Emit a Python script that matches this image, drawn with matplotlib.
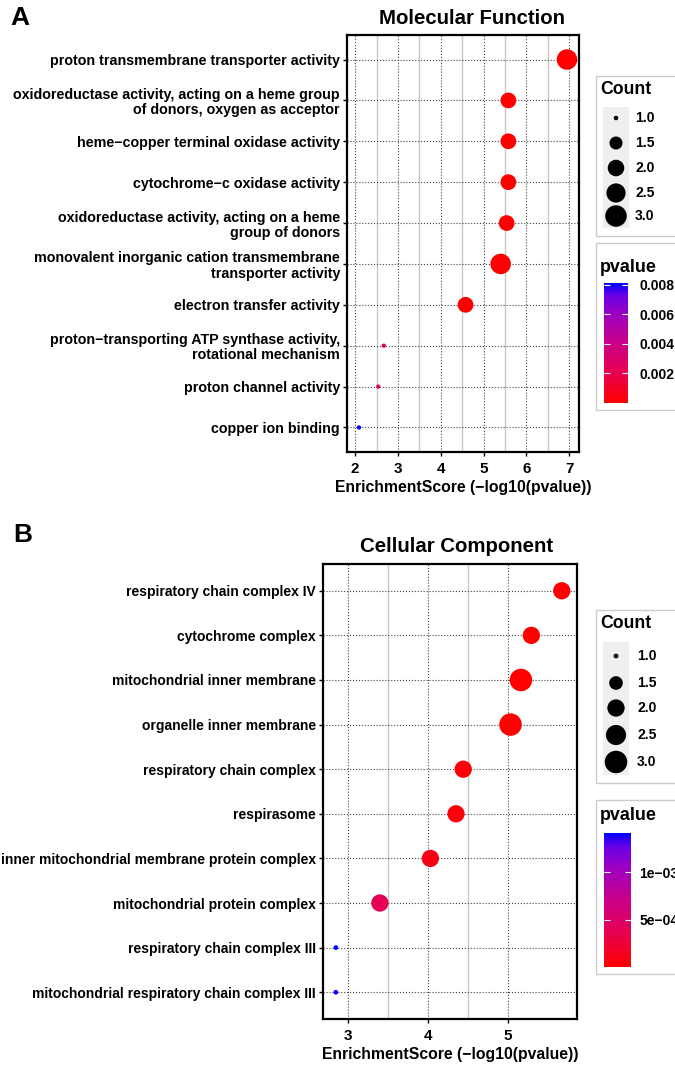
import numpy as np
import matplotlib
matplotlib.use('Agg')
import matplotlib.pyplot as plt
from matplotlib.colors import LinearSegmentedColormap, Normalize
from matplotlib.patches import Rectangle

plt.rcParams['font.family'] = ['Liberation Sans', 'DejaVu Sans']
plt.rcParams['font.weight'] = 'bold'
plt.rcParams['axes.labelweight'] = 'bold'

W, H = 675, 1068

# Molecular Function
mf_terms = [
    'proton transmembrane transporter activity',
    'oxidoreductase activity, acting on a heme group\nof donors, oxygen as acceptor',
    'heme\u2212copper terminal oxidase activity',
    'cytochrome\u2212c oxidase activity',
    'oxidoreductase activity, acting on a heme\ngroup of donors',
    'monovalent inorganic cation transmembrane\ntransporter activity',
    'electron transfer activity',
    'proton\u2212transporting ATP synthase activity,\nrotational mechanism',
    'proton channel activity',
    'copper ion binding',
]
mf_score = [6.95, 5.58, 5.58, 5.58, 5.54, 5.40, 4.58, 2.67, 2.54, 2.09]
mf_count = [3, 2, 2, 2, 2, 3, 2, 1, 1, 1]
mf_cbar_ticks = [0.002, 0.004, 0.006, 0.008]
mf_cbar_labels = ['0.002', '0.004', '0.006', '0.008']

# Cellular Component
cc_terms = [
    'respiratory chain complex IV',
    'cytochrome complex',
    'mitochondrial inner membrane',
    'organelle inner membrane',
    'respiratory chain complex',
    'respirasome',
    'inner mitochondrial membrane protein complex',
    'mitochondrial protein complex',
    'respiratory chain complex III',
    'mitochondrial respiratory chain complex III',
]
cc_score = [5.67, 5.29, 5.16, 5.03, 4.44, 4.35, 4.03, 3.40, 2.85, 2.85]
cc_count = [2, 2, 3, 3, 2, 2, 2, 2, 1, 1]
cc_cbar_ticks = [5e-4, 1e-3]
cc_cbar_labels = ['5e\u221204', '1e\u221203']

count_keys = [1.0, 1.5, 2.0, 2.5, 3.0]

# red -> blue, interpolated roughly like ggplot's Lab gradient
cmap = LinearSegmentedColormap.from_list('redblue', [
    (0.0, '#FF0000'), (0.25, '#E80050'), (0.5, '#CA0088'),
    (0.75, '#9A00C3'), (0.9, '#6800E7'), (1.0, '#0000FF')])


def px_axes(fig, l, t, r, b):
    return fig.add_axes([l / W, 1 - b / H, (r - l) / W, (b - t) / H])


def size_pt2(count, dmax=21.5):
    # ggplot area scale (range 1..6) plus the default point stroke
    c = np.asarray(count, dtype=float)
    gg = 1 + 5 * np.sqrt((c - 1) / 2)
    d = 2.845 * gg + 0.945
    d_px = dmax * d / (2.845 * 6 + 0.945)
    return (d_px * 0.72) ** 2


def panel(fig, box, terms, score, count, xlim, xticks, dmax, label_fs):
    ax = px_axes(fig, *box)
    y = np.arange(len(terms), 0, -1)
    p = 10.0 ** (-np.asarray(score))
    norm = Normalize(p.min(), p.max())
    sc = ax.scatter(score, y, s=size_pt2(count, dmax), c=p, cmap=cmap, norm=norm,
                    edgecolors='none', zorder=3)
    ax.set_xlim(xlim)
    ax.set_ylim(0.4, len(terms) + 0.6)
    ax.set_yticks(y)
    ax.set_yticklabels(terms, fontsize=label_fs, linespacing=1.1)
    ax.set_xticks(xticks)
    ax.set_xticks(np.array(xticks[:-1]) + 0.5, minor=True)
    ax.set_xticklabels([str(t) for t in xticks], fontsize=11)
    ax.grid(which='major', ls=':', color='#444444', lw=0.8)
    ax.grid(which='minor', axis='x', ls='-', color='#C8C8C8', lw=1.0)
    ax.set_axisbelow(True)
    ax.tick_params(which='minor', length=0)
    ax.tick_params(which='major', length=3, width=1, color='black', pad=2)
    ax.tick_params(axis='x', pad=4)
    for s in ax.spines.values():
        s.set_linewidth(1.6)
    ax.set_xlabel('EnrichmentScore (\u2212log10(pvalue))', fontsize=11.3, labelpad=3)
    return sc


fig = plt.figure(figsize=(W / 100, H / 100), dpi=100)

sc_a = panel(fig, (347, 35, 579, 452), mf_terms, mf_score, mf_count,
             (1.81, 7.23), [2, 3, 4, 5, 6, 7], 20.5, 10.3)
sc_b = panel(fig, (323, 564, 577, 1019), cc_terms, cc_score, cc_count,
             (2.69, 5.86), [3, 4, 5], 22.5, 10.0)

fig.text(10 / W, 1 - 18 / H, 'A', fontsize=19, va='center', ha='left')
fig.text(13 / W, 1 - 535 / H, 'B', fontsize=19, va='center', ha='left')
fig.text(472 / W, 1 - 18 / H, 'Molecular Function', fontsize=14.7, va='center', ha='center')
fig.text(457 / W, 1 - 547 / H, 'Cellular Component', fontsize=14.7, va='center', ha='center')

# legends drawn on a pixel-space overlay
ov = fig.add_axes([0, 0, 1, 1])
ov.set_xlim(0, W)
ov.set_ylim(H, 0)
ov.axis('off')


def count_legend(top, bottom, title_y, key_top, key_bottom, key_ys, label_x, dmax):
    ov.add_patch(Rectangle((596, top), 140, bottom - top, fill=False, ec='#CCCCCC', lw=1))
    ov.text(600, title_y, 'Count', fontsize=12.7, va='center', ha='left')
    ov.add_patch(Rectangle((603, key_top), 26, key_bottom - key_top, fc='#EFEFEF', ec='none'))
    ov.scatter([616] * len(count_keys), key_ys, s=size_pt2(count_keys, dmax), c='black',
               edgecolors='none', zorder=3)
    for k, yy in zip(count_keys, key_ys):
        ov.text(label_x, yy, f'{k:.1f}', fontsize=10, va='center', ha='left')


def pvalue_legend(sc, top, bottom, title_y, bar, ticks, labels):
    ov.add_patch(Rectangle((596, top), 140, bottom - top, fill=False, ec='#CCCCCC', lw=1))
    ov.text(600, title_y, 'pvalue', fontsize=12.9, va='center', ha='left')
    cax = px_axes(fig, *bar)
    cb = fig.colorbar(sc, cax=cax, ticks=ticks)
    cb.outline.set_visible(False)
    cb.ax.set_yticklabels(labels, fontsize=10)
    cax.tick_params(left=True, right=True, direction='in', color='white',
                    length=4, width=0.8, labelleft=False, labelright=True, pad=7)
    return cax


count_legend(76, 236, 90, 107, 228, [118, 143, 168, 193, 216], 635, 21.5)
cax_a = pvalue_legend(sc_a, 243, 410, 267, (604, 283, 628, 403), mf_cbar_ticks, mf_cbar_labels)
cax_a.tick_params(pad=8)

count_legend(610, 783, 623, 642, 775, [656, 683, 708, 735, 762], 637, 22.5)
cax_b = pvalue_legend(sc_b, 800, 974, 816, (604, 833, 631, 967), cc_cbar_ticks, cc_cbar_labels)
cax_b.tick_params(pad=6)

fig.savefig('out.png', dpi=100)
